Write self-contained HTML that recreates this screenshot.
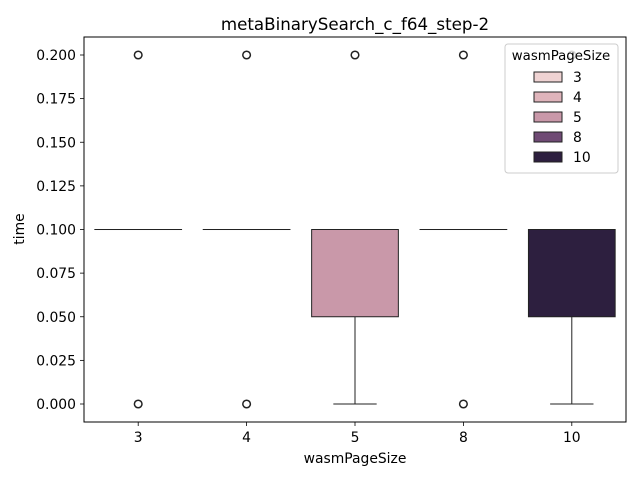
<!DOCTYPE html>
<html><head><meta charset="utf-8"><style>body{margin:0;background:#fff}svg{display:block;font-family:"DejaVu Sans","Liberation Sans",sans-serif}</style></head>
<body>
<svg id="c" width="640" height="480"></svg>
<script>
const categories=["3","4","5","8","10"];
const q1=[0.1,0.1,0.05,0.1,0.05];
const med=[0.1,0.1,0.1,0.1,0.1];
const q3=[0.1,0.1,0.1,0.1,0.1];
const whLo=[0.1,0.1,0,0.1,0];
const whHi=[0.1,0.1,0.1,0.1,0.1];
const outliers=[[0,0.2],[0,0.2],[0.2],[0,0.2],[0.2]];
const colors=["#efd3d3","#dfb4bb","#c998a9","#6f4a74","#2d1f3f"];
const yTicks=[0,0.025,0.05,0.075,0.1,0.125,0.15,0.175,0.2];
const NS="http://www.w3.org/2000/svg";
const svg=document.getElementById('c');
const L=84,R=626,T=37,B=422;
const FS=13.9;
const y=v=>404-v*(404-55)/0.2;
const bw=(R-L)/categories.length;
const x=i=>L+bw*(i+0.5);
function mk(t,a,p){const e=document.createElementNS(NS,t);for(const k in a)e.setAttribute(k,a[k]);(p||svg).appendChild(e);return e;}
yTicks.forEach(v=>{
 const t=mk('line',{x1:L-4,x2:L,y1:y(v),y2:y(v),stroke:'#000','stroke-width':0.8});
 
 
 const l=mk('text',{x:L-8,y:y(v)+5,'text-anchor':'end','font-size':FS});l.textContent=v.toFixed(3);
 
 
});
categories.forEach((c,i)=>{
 const cx=x(i),w=bw*0.8;
 const g=mk('g',{});
 
 
 mk('line',{x1:cx,x2:cx,y1:y(whLo[i]),y2:y(q1[i]),stroke:'#222','stroke-width':1},g);
 mk('line',{x1:cx,x2:cx,y1:y(q3[i]),y2:y(whHi[i]),stroke:'#222','stroke-width':1},g);
 mk('line',{x1:cx-w/4,x2:cx+w/4,y1:y(whLo[i]),y2:y(whLo[i]),stroke:'#222','stroke-width':1},g);
 mk('line',{x1:cx-w/4,x2:cx+w/4,y1:y(whHi[i]),y2:y(whHi[i]),stroke:'#222','stroke-width':1},g);
 mk('rect',{x:cx-w/2,y:y(q3[i]),width:w,height:Math.max(0.01,y(q1[i])-y(q3[i])),fill:colors[i],stroke:'#222','stroke-width':1},g);
 mk('line',{x1:cx-w/2,x2:cx+w/2,y1:y(med[i]),y2:y(med[i]),stroke:'#222','stroke-width':1},g);
 outliers[i].forEach(v=>{const o=mk('circle',{cx:cx,cy:y(v),r:3.8,fill:'none',stroke:'#222','stroke-width':1.5},g);
  
  });
 mk('line',{x1:cx,x2:cx,y1:B,y2:B+4,stroke:'#000','stroke-width':0.8});
 const l=mk('text',{x:cx,y:B+20,'text-anchor':'middle','font-size':FS});l.textContent=c;
 
 
});
const fr=mk('rect',{x:L,y:T,width:R-L,height:B-T,fill:'none',stroke:'#000','stroke-width':1});


let t=mk('text',{x:(L+R)/2,y:30,'text-anchor':'middle','font-size':16.7});t.textContent='metaBinarySearch_c_f64_step-2';


t=mk('text',{x:(L+R)/2,y:463,'text-anchor':'middle','font-size':FS});t.textContent='wasmPageSize';


t=mk('text',{x:0,y:0,'text-anchor':'middle','font-size':FS,transform:'translate(24,229) rotate(-90)'});t.textContent='time';


const lg=mk('g',{});


mk('rect',{x:505,y:44,width:113,height:129,rx:3,fill:'#fff','fill-opacity':0.8,stroke:'#ccc','stroke-width':1},lg);
t=mk('text',{x:561,y:60,'text-anchor':'middle','font-size':13.3},lg);t.textContent='wasmPageSize';
categories.forEach((c,i)=>{
 const yy=75+i*20;
 const e=mk('g',{},lg);
 
 
 mk('rect',{x:534,y:yy-3,width:28,height:10,fill:colors[i],stroke:'#222','stroke-width':1},e);
 const tx=mk('text',{x:573,y:yy+7,'font-size':FS},e);tx.textContent=c;
});
</script>
</body></html>
